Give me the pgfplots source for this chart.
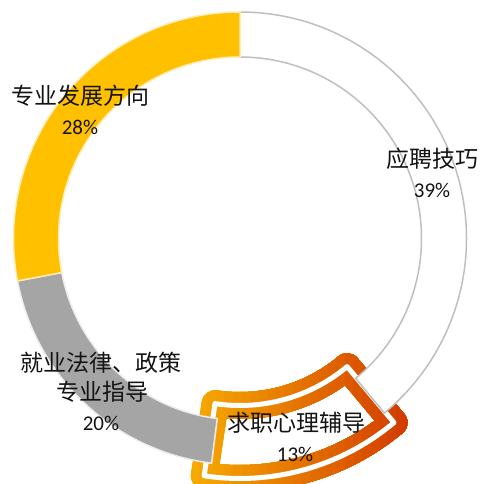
\documentclass[border=0pt]{standalone}
\usepackage{pgfplots}
\pgfplotsset{compat=1.18}
\usepackage{fontspec}
\setmainfont{Carlito}
\newfontfamily\cjk{Noto Sans CJK SC}
\definecolor{cGold}{RGB}{255,192,0}
\definecolor{cGray}{RGB}{165,165,165}
\definecolor{cEdge}{RGB}{191,191,191}
\definecolor{oL}{RGB}{246,170,0}
\definecolor{oR}{RGB}{210,58,0}
\definecolor{txt}{RGB}{20,20,20}
% data (percent)
\def\vA{39}% 应聘技巧
\def\vB{13}% 求职心理辅导
\def\vC{20}% 就业法律、政策专业指导
\def\vD{28}% 专业发展方向
\pgfmathsetmacro{\aO}{90}
\pgfmathsetmacro{\aA}{\aO-3.6*\vA}
\pgfmathsetmacro{\aB}{\aA-3.6*\vB}
\pgfmathsetmacro{\aC}{\aB-3.6*\vC}
\pgfmathsetmacro{\aD}{\aC-3.6*\vD}
\def\rI{181.5}
\def\rO{226.5}
% outlined slice geometry
\pgfmathsetmacro{\lL}{\aB-1.4}
\pgfmathsetmacro{\lR}{\aA+0.3}
\def\lI{167}
\def\lO{240}
\tikzset{
  sector/.style n args={4}{insert path={
    (axis cs:{#4*cos(#1)},{#4*sin(#1)}) arc[start angle=#1, end angle=#2, radius=#4]
    -- (axis cs:{#3*cos(#2)},{#3*sin(#2)}) arc[start angle=#2, end angle=#1, radius=#3] -- cycle}},
}
\begin{document}
\begin{tikzpicture}
\begin{axis}[x=1pt, y=1pt, xmin=-240, xmax=243, ymin=-245.5, ymax=238.5,
  hide axis, clip=false]
\coordinate (bl) at (axis cs:-240,-245.5);
\coordinate (tr) at (axis cs:243,238.5);
% outlined slice (13%)
\fill[white, sector={\lR}{\lL}{\lI}{\lO}];
\draw[oL, line width=27pt, line join=round, sector={\lR}{\lL}{\lI}{\lO}];
\pgfplotsinvokeforeach{4,8,...,100}{
  \begin{scope}
  \clip (axis cs:{-50+2.15*#1},-245) rectangle (axis cs:242,-100);
  \draw[oR!#1!oL, line width=27pt, line join=round, sector={\lR}{\lL}{\lI}{\lO}];
  \end{scope}
}
\draw[white, line width=5pt, line join=round, sector={\lR}{\lL}{\lI}{\lO}];
% other slices
\filldraw[fill=white, draw=cEdge, line width=1.5pt, sector={\aO}{\aA}{\rI}{\rO}];
\filldraw[fill=cGray, draw=white!80!cGray, line width=1.5pt, sector={\aB}{\aC}{\rI}{\rO}];
\filldraw[fill=cGold, draw=white!70!cGold, line width=1.5pt, sector={\aC}{\aD}{\rI}{\rO}];
% labels
\node[txt, inner sep=0, font=\cjk\fontsize{23}{26}\selectfont] at (axis cs:192.5,79.5) {应聘技巧};
\node[txt, inner sep=0, font=\fontsize{21}{24}\selectfont] at (axis cs:192,48.5) {39\%};
\node[txt, inner sep=0, font=\cjk\fontsize{23}{26}\selectfont] at (axis cs:-160,142.5) {专业发展方向};
\node[txt, inner sep=0, font=\fontsize{21}{24}\selectfont] at (axis cs:-160,111.5) {28\%};
\node[txt, inner sep=0, font=\cjk\fontsize{23}{26}\selectfont] at (axis cs:-139,-124.5) {就业法律、政策};
\node[txt, inner sep=0, font=\cjk\fontsize{23}{26}\selectfont] at (axis cs:-138,-153.5) {专业指导};
\node[txt, inner sep=0, font=\fontsize{21}{24}\selectfont] at (axis cs:-139,-184.5) {20\%};
\node[txt, inner sep=0, font=\cjk\fontsize{23}{26}\selectfont] at (axis cs:56,-184.5) {求职心理辅导};
\node[txt, inner sep=0, font=\fontsize{21}{24}\selectfont] at (axis cs:55,-215.5) {13\%};
\end{axis}
\pgfresetboundingbox
\path (bl) rectangle (tr);
\end{tikzpicture}
\end{document}
